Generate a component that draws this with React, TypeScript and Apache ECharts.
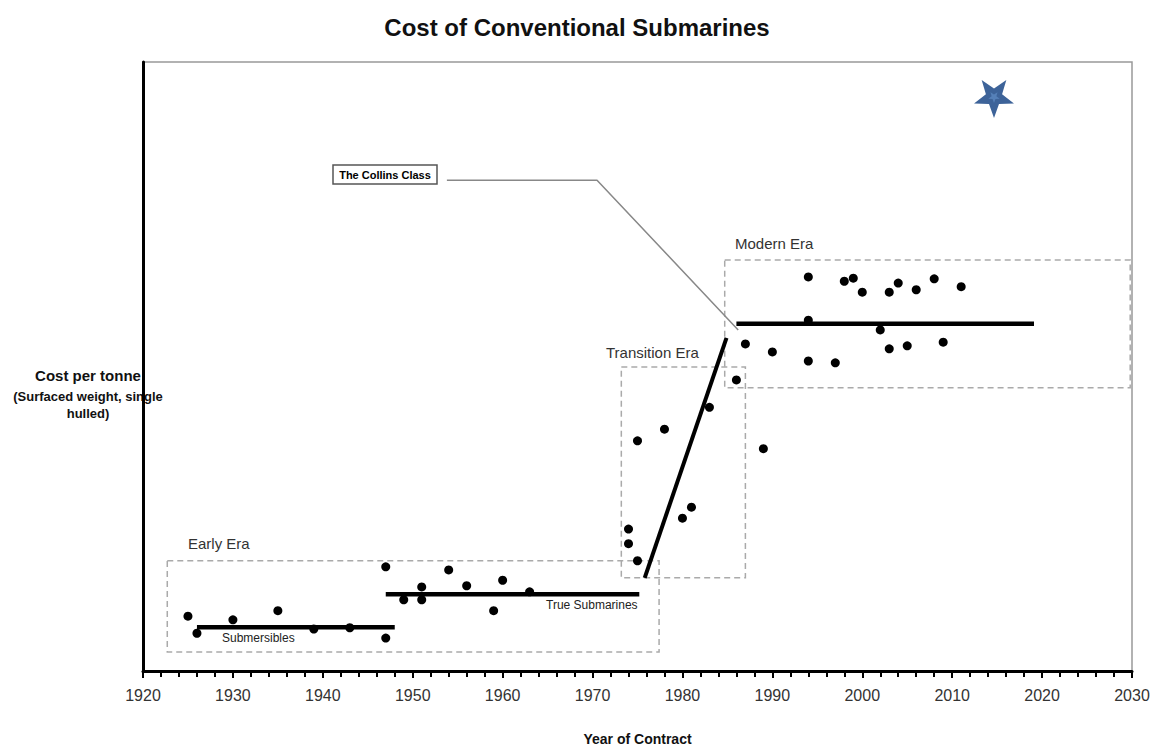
import React, { useEffect, useRef } from "react";
import * as echarts from "echarts";

// Year of contract (x) and relative cost per tonne (y, arbitrary units; axis unlabeled)
const earlyYears = [1925, 1926, 1930, 1935, 1939, 1943, 1947, 1947, 1949, 1951, 1951, 1954, 1956, 1959, 1960, 1963];
const earlyCosts = [9.0, 6.2, 8.4, 9.9, 6.9, 7.1, 17.1, 5.4, 11.7, 13.8, 11.7, 16.6, 14.0, 9.9, 14.9, 13.0];

const transYears = [1974, 1974, 1975, 1975, 1978, 1980, 1981, 1983, 1986, 1989];
const transCosts = [23.3, 20.9, 18.1, 37.8, 39.7, 25.1, 26.9, 43.3, 47.8, 36.5];

const modernYears = [1987, 1990, 1994, 1994, 1994, 1997, 1998, 1999, 2000, 2002, 2003, 2003, 2004, 2005, 2006, 2008, 2009, 2011];
const modernCosts = [53.7, 52.4, 64.7, 57.6, 50.9, 50.6, 64.0, 64.5, 62.2, 56.0, 62.2, 52.9, 63.7, 53.4, 62.6, 64.4, 54.0, 63.1];

// Trend lines [x, y]
const submersiblesLine = [[1926, 7.2], [1948, 7.2]];
const trueSubsLine = [[1947, 12.6], [1975.2, 12.6]];
const transitionLine = [[1975.8, 15.3], [1984.9, 54.7]];
const modernLine = [[1986, 57.0], [2019.1, 57.0]];

// Era boxes [[x0, y0], [x1, y1]]
const earlyBox = [[1922.7, 18.1], [1977.4, 3.1]];
const transBox = [[1973.2, 49.9], [1987.0, 15.3]];
const modernBox = [[1984.7, 67.5], [2029.8, 46.5]];

// Collins class leader line
const collinsLeader = [[1953.8, 80.6], [1970.5, 80.6], [1986.2, 56.0]];

const xMin = 1920;
const xMax = 2030;
const xInterval = 10;

const NARROW = "'Liberation Sans Narrow', 'Arial Narrow', 'Liberation Sans', Arial, sans-serif";
const SANS = "'Liberation Sans', Arial, sans-serif";

function starPoints(cx: number, cy: number, R: number, r: number): number[][] {
  const pts: number[][] = [];
  for (let i = 0; i < 10; i++) {
    const ang = (Math.PI / 2) + (i * Math.PI) / 5; // point downward first
    const rad = i % 2 === 0 ? R : r;
    pts.push([cx + rad * Math.cos(ang), cy + rad * Math.sin(ang)]);
  }
  return pts;
}

export default function App() {
  const ref = useRef<HTMLDivElement>(null);
  useEffect(() => {
    if (!ref.current) return;
    const chart = echarts.init(ref.current, null, { renderer: "svg", width: 1154, height: 751 });
    const zip = (xs: number[], ys: number[]) => xs.map((x, i) => [x, ys[i]]);
    const trend = (data: number[][], width: number) => ({
      type: "line",
      data,
      symbol: "none",
      lineStyle: { color: "#000", width },
      z: 3,
      silent: true,
    });
    const box = (b: number[][]) => [
      { coord: b[0] },
      { coord: b[1] },
    ];
    chart.setOption({
      animation: false,
      backgroundColor: "#fff",
      title: {
        text: "Cost of Conventional Submarines",
        left: "center",
        top: 10,
        textStyle: { fontFamily: NARROW, fontWeight: "bold", fontSize: 24, color: "#111" },
      },
      grid: {
        left: 143,
        right: 22,
        top: 62,
        bottom: 80,
        outerBoundsMode: "none",
        containLabel: false,
        show: true,
        borderColor: "#999",
        borderWidth: 1.5,
        backgroundColor: "transparent",
      },
      xAxis: {
        type: "value",
        min: xMin,
        max: xMax,
        interval: xInterval,
        name: "Year of Contract",
        nameLocation: "middle",
        nameGap: 61,
        nameTextStyle: { fontFamily: NARROW, fontWeight: "bold", fontSize: 14, color: "#111" },
        axisLine: { show: true, onZero: false, lineStyle: { color: "#000", width: 3 } },
        axisTick: { show: true, length: 7, lineStyle: { color: "#000", width: 2 } },
        minorTick: { show: true, splitNumber: 5, length: 6, lineStyle: { color: "#000", width: 2 } },
        axisLabel: { margin: 16, fontFamily: NARROW, fontSize: 16, color: "#333", formatter: (v: number) => String(v) },
        splitLine: { show: false },
      },
      yAxis: {
        type: "value",
        min: 0,
        max: 100,
        axisLine: { show: true, lineStyle: { color: "#000", width: 3 } },
        axisTick: { show: false },
        axisLabel: { show: false },
        splitLine: { show: false },
      },
      series: [
        {
          type: "line",
          data: [],
          markArea: {
            silent: true,
            itemStyle: { color: "transparent", borderColor: "#aaa", borderWidth: 1.5, borderType: [6, 4] },
            data: [box(earlyBox), box(transBox), box(modernBox)],
          },
          z: 1,
        },
        {
          type: "line",
          data: collinsLeader,
          symbol: "none",
          lineStyle: { color: "#888", width: 1.5 },
          z: 2,
          silent: true,
        },
        trend(submersiblesLine, 4.5),
        trend(trueSubsLine, 4.5),
        trend(transitionLine, 4),
        trend(modernLine, 4.5),
        {
          type: "scatter",
          data: [...zip(earlyYears, earlyCosts), ...zip(transYears, transCosts), ...zip(modernYears, modernCosts)],
          symbolSize: 9,
          itemStyle: { color: "#000", opacity: 1 },
          z: 4,
        },
      ],
      graphic: [
        { type: "text", left: 188, top: 536, style: { text: "Early Era", fontFamily: SANS, fontSize: 15, fill: "#333" } },
        { type: "text", left: 606, top: 345, style: { text: "Transition Era", fontFamily: SANS, fontSize: 15, fill: "#333" } },
        { type: "text", left: 735, top: 236, style: { text: "Modern Era", fontFamily: SANS, fontSize: 15, fill: "#333" } },
        { type: "text", left: 222, top: 632, style: { text: "Submersibles", fontFamily: NARROW, fontSize: 12, fill: "#222" } },
        { type: "text", left: 546, top: 599, style: { text: "True Submarines", fontFamily: NARROW, fontSize: 12, fill: "#222" } },
        {
          type: "rect",
          shape: { x: 333, y: 165, width: 104, height: 19 },
          style: { fill: "#fff", stroke: "#555", lineWidth: 1.5 },
        },
        {
          type: "text",
          x: 385,
          y: 175,
          style: { text: "The Collins Class", fontFamily: NARROW, fontWeight: "bold", fontSize: 11, fill: "#000", align: "center", verticalAlign: "middle" },
        },
        {
          type: "text",
          x: 88,
          y: 375,
          style: { text: "Cost per tonne", fontFamily: NARROW, fontWeight: "bold", fontSize: 15, fill: "#111", align: "center", verticalAlign: "middle" },
        },
        {
          type: "text",
          x: 88,
          y: 396,
          style: { text: "(Surfaced weight, single", fontFamily: NARROW, fontWeight: "bold", fontSize: 13, fill: "#111", align: "center", verticalAlign: "middle" },
        },
        {
          type: "text",
          x: 88,
          y: 413,
          style: { text: "hulled)", fontFamily: NARROW, fontWeight: "bold", fontSize: 13, fill: "#111", align: "center", verticalAlign: "middle" },
        },
        {
          type: "polygon",
          shape: { points: starPoints(994, 97, 21, 8.5) },
          style: { fill: "#3d6399" },
        },
        {
          type: "polygon",
          shape: { points: starPoints(994, 97, 6, 2.5) },
          style: { fill: "#5580b8" },
        },
      ],
    });
    return () => chart.dispose();
  }, []);
  return <div ref={ref} style={{ width: 1154, height: 751, position: "absolute", left: 0, top: 0 }} />;
}
